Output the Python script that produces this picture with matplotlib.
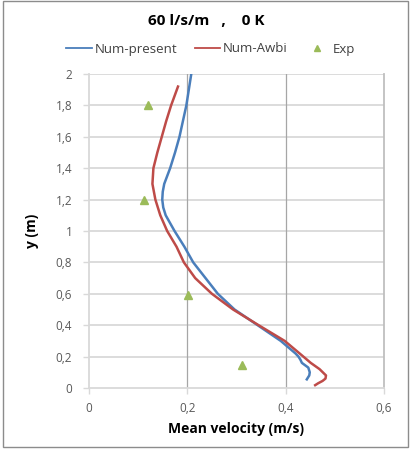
import matplotlib
matplotlib.use("Agg")
import matplotlib.pyplot as plt
from matplotlib.lines import Line2D
from matplotlib.patches import Rectangle

plt.rcParams['font.family'] = ['Open Sans', 'DejaVu Sans']

# velocity profiles (m/s) against height y (m)
present_v = [0.208, 0.203, 0.198, 0.191, 0.184, 0.175, 0.165, 0.153, 0.150, 0.149,
             0.151, 0.156, 0.174, 0.194, 0.212, 0.237, 0.262, 0.296, 0.343, 0.390,
             0.420, 0.426, 0.430, 0.433, 0.446, 0.449, 0.448, 0.443]
present_y = [2.0, 1.9, 1.8, 1.7, 1.6, 1.5, 1.4, 1.3, 1.25, 1.2,
             1.15, 1.1, 1.0, 0.9, 0.8, 0.7, 0.6, 0.5, 0.4, 0.3,
             0.22, 0.2, 0.18, 0.16, 0.13, 0.1, 0.08, 0.055]

awbi_v = [0.181, 0.167, 0.157, 0.148, 0.139, 0.131, 0.129, 0.135, 0.145, 0.159,
          0.178, 0.193, 0.216, 0.250, 0.293, 0.345, 0.398, 0.436, 0.451, 0.469,
          0.482, 0.481, 0.475, 0.466, 0.460]
awbi_y = [1.92, 1.8, 1.7, 1.6, 1.5, 1.4, 1.3, 1.2, 1.1, 1.0,
          0.9, 0.8, 0.7, 0.6, 0.5, 0.4, 0.3, 0.2, 0.16, 0.12,
          0.08, 0.06, 0.045, 0.03, 0.018]

exp_v = [0.12, 0.111, 0.201, 0.312]
exp_y = [1.80, 1.20, 0.59, 0.145]

x_ticks = [0, 0.2, 0.4, 0.6]
x_labels = ['0', '0,2', '0,4', '0,6']
y_ticks = [0, 0.2, 0.4, 0.6, 0.8, 1.0, 1.2, 1.4, 1.6, 1.8, 2.0]
y_labels = ['0', '0,2', '0,4', '0,6', '0,8', '1', '1,2', '1,4', '1,6', '1,8', '2']

blue = '#4a7ebb'
red = '#be4b48'
green = '#9bbb59'
W, H = 413, 453

fig = plt.figure(figsize=(W / 100, H / 100), dpi=100)
# outer chart frame
fig.patches.append(Rectangle((3 / W, 1 - 447 / H), 405 / W, 446 / H, transform=fig.transFigure,
                             fill=False, edgecolor='#8c8c8c', linewidth=1.0))

ax = fig.add_axes([89 / W, 1 - 388 / H, 295 / W, 314 / H])
ax.set_xlim(0, 0.6)
ax.set_ylim(0, 2)

for yt in y_ticks[1:]:
    ax.axhline(yt, color='#d9d9d9', linewidth=1.3, zorder=0)
for xt in x_ticks[1:3]:
    ax.axvline(xt, color='#a6a6a6', linewidth=0.9, zorder=0)

ax.spines['top'].set_visible(False)
ax.spines['left'].set_color('#d9d9d9')
ax.spines['bottom'].set_color('#d9d9d9')
ax.spines['right'].set_color('#bfbfbf')
for s in ['left', 'bottom', 'right']:
    ax.spines[s].set_linewidth(1.3)

ax.plot(present_v, present_y, color=blue, linewidth=1.8, zorder=3)
ax.plot(awbi_v, awbi_y, color=red, linewidth=1.8, zorder=3)
ax.plot(exp_v, exp_y, linestyle='none', marker='^', markersize=5.5, color=green, zorder=4)

ax.set_xticks(x_ticks)
ax.set_xticklabels(x_labels)
ax.set_yticks(y_ticks)
ax.set_yticklabels(y_labels)
ax.tick_params(axis='both', colors='#d9d9d9', labelcolor='#595959', labelsize=8.5,
               length=4, width=1.0)
ax.tick_params(axis='x', pad=6)
ax.tick_params(axis='y', pad=8)

ax.set_xlabel('Mean velocity (m/s)', fontsize=10, fontweight='bold', labelpad=5)
ax.set_ylabel('y (m)', fontsize=10, fontweight='bold', labelpad=12)

fig.text(206 / W, 1 - 21 / H, '60 l/s/m   ,    0 K', ha='center', va='center',
         fontsize=11, fontweight='bold')

handles = [Line2D([], [], color=blue, linewidth=1.3),
           Line2D([], [], color=red, linewidth=1.3),
           Line2D([], [], linestyle='none', marker='^', markersize=5, color=green)]
fig.legend(handles, ['Num-present', 'Num-Awbi', 'Exp'], loc='center',
           bbox_to_anchor=(211 / W, 1 - 49 / H), ncol=3, frameon=False,
           fontsize=9.5, handlelength=1.9, handletextpad=0.25, columnspacing=1.3,
           labelcolor='#404040')

fig.savefig('out.png', dpi=100)
